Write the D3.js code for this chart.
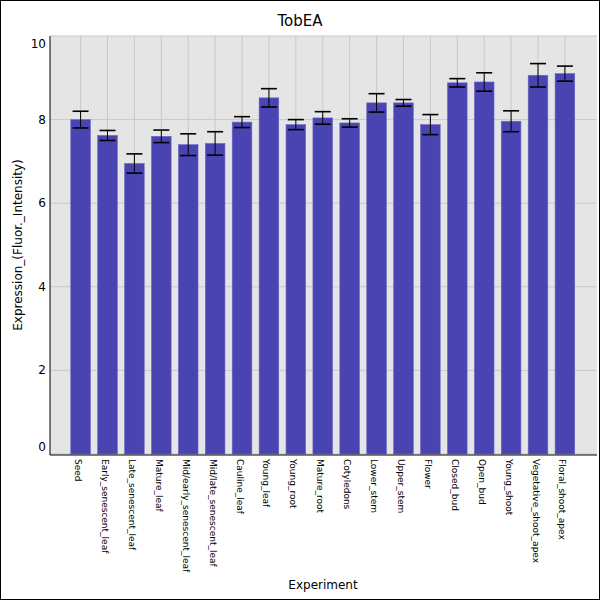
<!DOCTYPE html>
<html>
<head>
<meta charset="UTF-8">
<script src="https://d3js.org/d3.v7.min.js"></script>
<style>
body{margin:0;font-family:"DejaVu Sans",sans-serif;}
</style>
</head>
<body>
<script>
const categories = ["Seed","Early_senescent_leaf","Late_senescent_leaf","Mature_leaf","Mid/early_senescent_leaf","Mid/late_senescent_leaf","Cauline_leaf","Young_leaf","Young_root","Mature_root","Cotyledons","Lower_stem","Upper_stem","Flower","Closed_bud","Open_bud","Young_shoot","Vegetative_shoot_apex","Floral_shoot_apex"];
const values = [8.0,7.62,6.95,7.6,7.4,7.43,7.94,8.52,7.88,8.04,7.92,8.4,8.4,7.88,8.88,8.9,7.96,9.06,9.1];
const errors = [0.2,0.12,0.23,0.15,0.26,0.28,0.13,0.22,0.12,0.15,0.1,0.22,0.08,0.24,0.1,0.22,0.25,0.28,0.18];
const yTicks = [0,2,4,6,8,10];

const svg = d3.select("body").append("svg").attr("width",600).attr("height",600);
svg.append("rect").attr("x",0.5).attr("y",0.5).attr("width",599).attr("height",599).attr("fill","white").attr("stroke","black");

const pLeft = 50, pRight = 597, pTop = 36, pBottom = 454;
svg.append("rect").attr("x",pLeft).attr("y",pTop).attr("width",pRight-pLeft).attr("height",pBottom-pTop).attr("fill","#e5e5e5");

const x = d3.scaleBand().domain(categories).range([63.5,582]).padding(0.27);
const y = d3.scaleLinear().domain([0,10]).range([pBottom,pTop]);

// grid
svg.append("g").selectAll("line").data(yTicks).join("line")
  .attr("x1",pLeft).attr("x2",pRight).attr("y1",d=>y(d)).attr("y2",d=>y(d))
  .attr("stroke","#c8c8c8");
svg.append("g").selectAll("line").data(categories).join("line")
  .attr("x1",d=>x(d)+x.bandwidth()/2).attr("x2",d=>x(d)+x.bandwidth()/2)
  .attr("y1",pTop).attr("y2",pBottom).attr("stroke","#c8c8c8");

// bars
svg.append("g").selectAll("rect").data(categories).join("rect")
  .attr("x",d=>x(d)).attr("width",x.bandwidth())
  .attr("y",(d,i)=>y(values[i])).attr("height",(d,i)=>pBottom-y(values[i]))
  .attr("fill","#4a44b3").attr("stroke","#6a66c4").attr("stroke-width",0.6);

// error bars
const eg = svg.append("g").attr("stroke","black").attr("stroke-width",1.6);
categories.forEach((c,i)=>{
  const cx = x(c)+x.bandwidth()/2;
  eg.append("line").attr("x1",cx).attr("x2",cx).attr("y1",y(values[i]+errors[i])).attr("y2",y(values[i]-errors[i])).attr("stroke-width",1);
  [values[i]+errors[i],values[i]-errors[i]].forEach(v=>{
    eg.append("line").attr("x1",cx-8).attr("x2",cx+8).attr("y1",y(v)).attr("y2",y(v));
  });
});

// axes
svg.append("line").attr("x1",pLeft).attr("x2",pLeft).attr("y1",pTop).attr("y2",pBottom+1).attr("stroke","black");
svg.append("line").attr("x1",pLeft).attr("x2",pRight).attr("y1",pBottom+1).attr("y2",pBottom+1).attr("stroke","black");

svg.append("g").selectAll("text").data(yTicks).join("text")
  .attr("x",pLeft-4).attr("y",d=> d===0 ? y(d)-3 : d===10 ? y(d)+12 : y(d)+4)
  .attr("text-anchor","end").attr("font-size",12).text(d=>d);

svg.append("g").selectAll("text").data(categories).join("text")
  .attr("transform",d=>`translate(${x(d)+x.bandwidth()/2-3},${pBottom+5}) rotate(90)`)
  .attr("font-size",9).attr("dominant-baseline","middle").text(d=>d);

svg.append("text").attr("x",300).attr("y",26).attr("text-anchor","middle").attr("font-size",15).text("TobEA");
svg.append("text").attr("x",323).attr("y",589).attr("text-anchor","middle").attr("font-size",12).text("Experiment");
svg.append("text").attr("transform","translate(22,245) rotate(-90)").attr("text-anchor","middle").attr("font-size",12).text("Expression_(Fluor._Intensity)");
</script>
</body>
</html>
